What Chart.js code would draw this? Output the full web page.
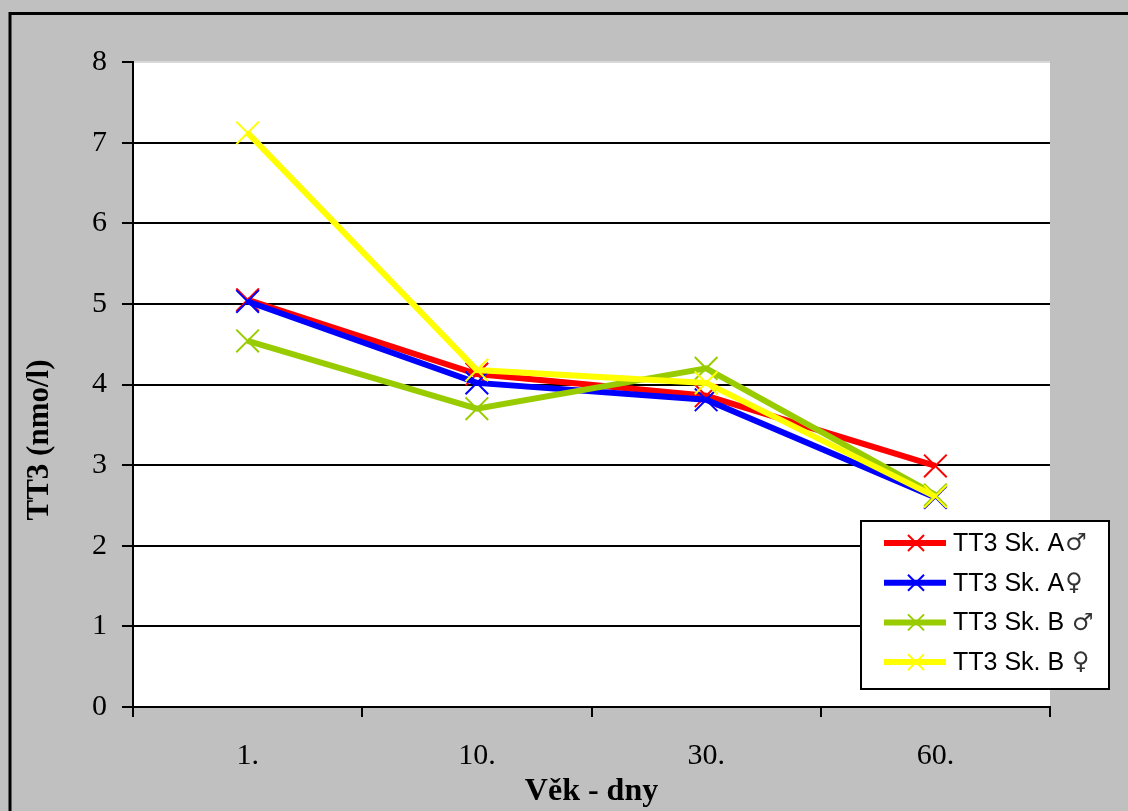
<!DOCTYPE html>
<html>
<head>
<meta charset="utf-8">
<script src="https://cdn.jsdelivr.net/npm/chart.js@4/dist/chart.umd.min.js"></script>
<style>
  body { margin: 0; background: #c0c0c0; }
  canvas { display: block; }
</style>
</head>
<body>
<canvas id="mycanvas" width="1128" height="811"></canvas>
<script>
var days = ['1.', '10.', '30.', '60.'];
var skAmale = [5.05, 4.13, 3.86, 2.99];
var skAfemale = [5.03, 4.02, 3.81, 2.60];
var skBmale = [4.54, 3.70, 4.20, 2.63];
var skBfemale = [7.12, 4.18, 4.02, 2.61];
var yTicks = [0, 1, 2, 3, 4, 5, 6, 7, 8];

function series(label, color, data, order) {
	return {
		label: label,
		data: data,
		borderColor: color,
		backgroundColor: color,
		borderWidth: 6,
		pointStyle: 'crossRot',
		pointRadius: 16,
		pointBorderWidth: 2,
		pointBorderColor: color,
		tension: 0,
		order: order
	};
}

var chartdata = {
	labels: days,
	datasets: [
		series('TT3 Sk. A\u2642', '#ff0000', skAmale, 4),
		series('TT3 Sk. A\u2640', '#0000ff', skAfemale, 3),
		series('TT3 Sk. B \u2642', '#99cc00', skBmale, 2),
		series('TT3 Sk. B \u2640', '#ffff00', skBfemale, 1)
	]
};

// grey background, outer frame, white plot area, y title and legend box
var excelLook = {
	id: 'excelLook',
	beforeDraw: function(chart) {
		var c = chart.ctx, a = chart.chartArea;
		c.save();
		c.fillStyle = '#c0c0c0';
		c.fillRect(0, 0, chart.width, chart.height);
		c.strokeStyle = '#000';
		c.lineWidth = 3;
		c.strokeRect(10, 13.5, 1300, 1000);
		c.fillStyle = '#fff';
		c.fillRect(a.left, a.top, a.right - a.left, a.bottom - a.top);
		c.restore();
	},
	afterDraw: function(chart) {
		var c = chart.ctx;
		c.save();
		c.translate(40, 440);
		c.rotate(-Math.PI / 2);
		c.fillStyle = '#000';
		c.font = 'bold 31px "Liberation Serif"';
		c.textAlign = 'center';
		c.textBaseline = 'middle';
		c.fillText('TT3 (nmo/l)', 0, 0);
		c.restore();

		var bx = 861, by = 521, bw = 248, bh = 168;
		c.save();
		c.fillStyle = '#fff';
		c.fillRect(bx, by, bw, bh);
		c.strokeStyle = '#000';
		c.lineWidth = 2;
		c.strokeRect(bx, by, bw, bh);
		chart.data.datasets.forEach(function(ds, i) {
			var y = by + 22 + i * 39.7;
			c.strokeStyle = ds.borderColor;
			c.lineWidth = 6;
			c.beginPath();
			c.moveTo(884, y);
			c.lineTo(946, y);
			c.stroke();
			c.lineWidth = 2;
			c.beginPath();
			c.moveTo(908, y - 8); c.lineTo(924, y + 8);
			c.moveTo(924, y - 8); c.lineTo(908, y + 8);
			c.stroke();
			// the sex symbol is drawn in a font with full-size glyphs
			var txt = ds.label.slice(0, -1), sym = ds.label.slice(-1);
			c.fillStyle = '#000';
			c.textAlign = 'left';
			c.textBaseline = 'middle';
			c.font = '25px "Liberation Sans"';
			c.fillText(txt, 953, y + 1);
			var w = c.measureText(txt).width;
			c.font = '24px "DejaVu Sans"';
			c.fillStyle = '#333';
			c.fillText(sym, 953 + w + 1, y + 1);
		});
		c.restore();
	}
};

var ctx = document.getElementById('mycanvas');
var LineGraph = new Chart(ctx, {
	type: 'line',
	data: chartdata,
	plugins: [excelLook],
	options: {
		responsive: false,
		animation: false,
		devicePixelRatio: 1,
		layout: { padding: { left: 10, top: 62, right: 78, bottom: 0 } },
		plugins: {
			legend: { display: false },
			tooltip: { enabled: false }
		},
		scales: {
			x: {
				offset: true,
				afterFit: function(scale) { scale.height = 104; },
				border: { display: true, color: '#000', width: 2 },
				grid: {
					offset: true,
					drawOnChartArea: false,
					drawTicks: true,
					tickLength: 10,
					tickColor: '#000',
					lineWidth: 2
				},
				ticks: {
					color: '#000',
					padding: 21,
					font: { family: '"Liberation Serif"', size: 30 }
				},
				title: {
					display: true,
					text: 'Věk - dny',
					color: '#000',
					padding: { top: 0, bottom: 0 },
					font: { family: '"Liberation Serif"', size: 32, weight: 'bold' }
				}
			},
			y: {
				min: 0,
				max: 8,
				afterFit: function(scale) { scale.width = 123; },
				afterBuildTicks: function(scale) {
					scale.ticks = yTicks.map(function(v) { return { value: v }; });
				},
				border: { display: true, color: '#000', width: 2 },
				grid: {
					color: function(c) { return c.tick && c.tick.value === 8 ? '#d8d8d8' : '#000'; },
					tickColor: '#000',
					lineWidth: 2,
					drawTicks: true,
					tickLength: 11
				},
				ticks: {
					color: '#000',
					padding: 15,
					font: { family: '"Liberation Serif"', size: 30 }
				}
			}
		}
	}
});
</script>
</body>
</html>
